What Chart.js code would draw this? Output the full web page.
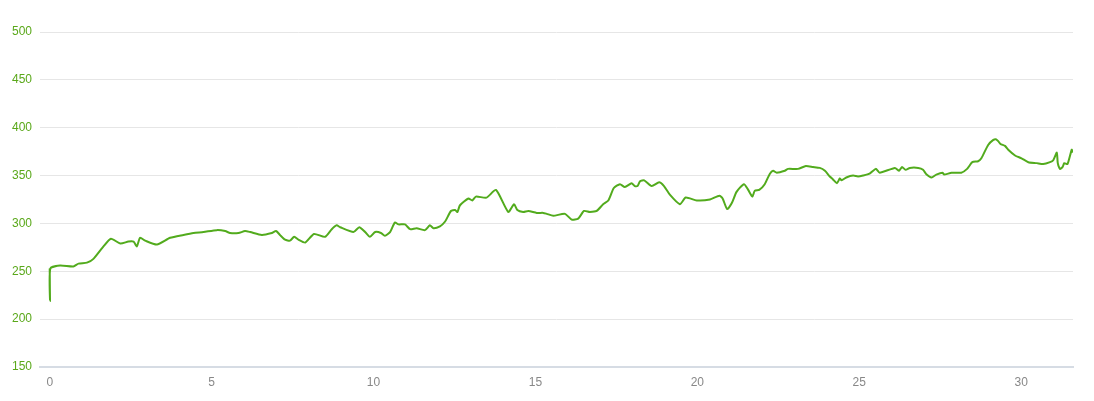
<!DOCTYPE html>
<html>
<head>
<meta charset="utf-8">
<script src="https://cdn.jsdelivr.net/npm/chart.js@4.4.1/dist/chart.umd.min.js"></script>
<style>
html,body{margin:0;padding:0;background:#fff;}
canvas{display:block;}
</style>
</head>
<body>
<canvas id="c" width="1094" height="401"></canvas>
<script>
const distanceKm = [
  0, 0.01, 0.02, 0.32, 0.73, 0.89, 1.15, 1.35, 1.66, 1.89,
  2.18, 2.43, 2.59, 2.69, 2.79, 2.95, 3.31, 3.72, 4.13, 4.44,
  4.75, 5.16, 5.42, 5.57, 5.83, 6.03, 6.19, 6.55, 6.86, 6.99,
  7.11, 7.27, 7.42, 7.55, 7.68, 7.89, 8.16, 8.50, 8.71, 8.86,
  8.97, 9.38, 9.56, 9.74, 9.89, 10.05, 10.23, 10.35, 10.51, 10.66,
  10.77, 10.97, 11.13, 11.33, 11.59, 11.74, 11.85, 12.05, 12.21, 12.39,
  12.52, 12.59, 12.67, 12.93, 13.05, 13.16, 13.49, 13.78, 14.16, 14.34,
  14.44, 14.62, 14.78, 15.04, 15.24, 15.35, 15.55, 15.91, 16.12, 16.32,
  16.50, 16.68, 16.89, 17.09, 17.25, 17.42, 17.61, 17.76, 17.97, 18.07,
  18.15, 18.23, 18.36, 18.59, 18.82, 18.97, 19.15, 19.46, 19.64, 19.98,
  20.39, 20.68, 20.78, 20.92, 21.06, 21.21, 21.44, 21.57, 21.70, 21.77,
  21.91, 22.08, 22.24, 22.34, 22.45, 22.70, 22.80, 23.11, 23.35, 23.57,
  23.78, 23.94, 24.09, 24.19, 24.31, 24.40, 24.45, 24.60, 24.81, 24.96,
  25.12, 25.32, 25.51, 25.63, 26.10, 26.23, 26.32, 26.43, 26.56, 26.82,
  26.97, 27.08, 27.23, 27.38, 27.57, 27.62, 27.85, 28.15, 28.33, 28.49,
  28.67, 28.77, 28.98, 29.13, 29.22, 29.29, 29.36, 29.50, 29.60, 29.81,
  30.01, 30.22, 30.48, 30.68, 30.89, 30.99, 31.10, 31.13, 31.20, 31.28,
  31.33, 31.43, 31.56, 31.59
];
const elevationM = [
  253, 219, 253, 256, 255, 258, 259, 263, 276, 284,
  279, 281, 281, 276, 285, 282, 278, 285, 288, 290,
  291, 293, 292, 290, 290, 292, 291, 288, 290, 292,
  288, 283, 282, 286, 283, 280, 289, 286, 294, 298,
  296, 291, 296, 291, 286, 291, 290, 287, 291, 301,
  299, 299, 294, 295, 293, 298, 295, 297, 302, 313,
  314, 312, 319, 326, 324, 328, 327, 335, 312, 320,
  314, 312, 313, 311, 311, 310, 308, 310, 304, 305,
  313, 312, 313, 320, 324, 337, 341, 338, 342, 339,
  339, 344, 345, 339, 343, 339, 330, 320, 327, 324,
  325, 329, 326, 315, 321, 333, 341, 335, 328, 334,
  335, 341, 352, 355, 353, 355, 357, 357, 360, 359,
  358, 355, 349, 346, 342, 347, 345, 348, 350, 349,
  350, 352, 357, 353, 358, 355, 359, 356, 358, 358,
  356, 351, 348, 351, 353, 351, 353, 353, 357, 364,
  365, 368, 382, 387, 388, 386, 383, 381, 377, 371,
  368, 364, 363, 362, 364, 366, 374, 363, 357, 359,
  363, 362, 377, 374
];
const xTickValues = [0, 5, 10, 15, 20, 25, 30];
const yTickValues = [150, 200, 250, 300, 350, 400, 450, 500];

const points = distanceKm.map((d, i) => ({x: d, y: elevationM[i]}));

new Chart(document.getElementById('c'), {
  type: 'line',
  data: {
    datasets: [{
      data: points,
      borderColor: '#52ab1d',
      borderWidth: 2,
      pointRadius: 0,
      fill: false,
      tension: 0.2
    }]
  },
  options: {
    responsive: false,
    animation: false,
    layout: {padding: {top: 32, right: 21, bottom: 0, left: 0}},
    plugins: {legend: {display: false}, tooltip: {enabled: false}},
    scales: {
      x: {
        type: 'linear',
        min: -0.3,
        max: 31.6,
        afterBuildTicks: (s) => { s.ticks = xTickValues.map(v => ({value: v})); },
        afterFit: (s) => { s.height = 34; },
        grid: {display: false, drawTicks: false},
        border: {display: true, color: '#d6dce4', width: 2},
        ticks: {color: '#888888', padding: 8, maxRotation: 0, font: {family: 'Liberation Sans', size: 12}}
      },
      y: {
        min: 150,
        max: 500,
        afterBuildTicks: (s) => { s.ticks = yTickValues.map(v => ({value: v})); },
        afterFit: (s) => { s.width = 40; },
        grid: {color: '#e6e6e6', drawTicks: false},
        border: {display: false},
        ticks: {color: '#5aa81a', padding: 8, font: {family: 'Liberation Sans', size: 12}}
      }
    }
  }
});
</script>
</body>
</html>
